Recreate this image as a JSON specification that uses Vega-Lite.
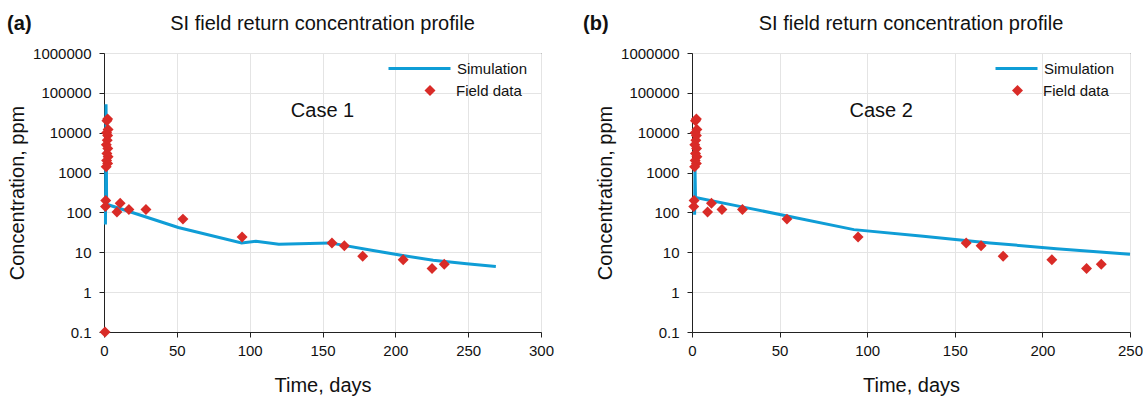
{
  "$schema": "https://vega.github.io/schema/vega-lite/v6.json",
  "background": "white",
  "padding": {"left": 7, "top": 13, "right": 2, "bottom": 2},
  "config": {
    "font": "Liberation Sans",
    "view": {"stroke": "#222", "strokeWidth": 1},
    "axis": {"domainColor": "#222", "tickColor": "#222", "labelColor": "#111", "titleColor": "#111", "labelFontSize": 15, "titleFontSize": 20, "titleFontWeight": "normal", "gridColor": "#e4e4e4", "tickSize": 5, "labelFont": "Liberation Sans", "titleFont": "Liberation Sans"},
    "title": {"fontSize": 20, "fontWeight": "normal", "color": "#111", "font": "Liberation Sans"},
    "legend": {"labelFontSize": 15, "labelColor": "#111", "labelFont": "Liberation Sans"}
  },
  "datasets": {
    "fieldA": [
      {"day": 0.7, "conc": 0.1, "series": "Field data"},
      {"day": 2.5, "conc": 22000, "series": "Field data"},
      {"day": 2.0, "conc": 20000, "series": "Field data"},
      {"day": 2.8, "conc": 12000, "series": "Field data"},
      {"day": 1.8, "conc": 10000, "series": "Field data"},
      {"day": 2.5, "conc": 8500, "series": "Field data"},
      {"day": 2.2, "conc": 6500, "series": "Field data"},
      {"day": 1.6, "conc": 5000, "series": "Field data"},
      {"day": 2.6, "conc": 4000, "series": "Field data"},
      {"day": 2.0, "conc": 3000, "series": "Field data"},
      {"day": 2.8, "conc": 2500, "series": "Field data"},
      {"day": 1.8, "conc": 2000, "series": "Field data"},
      {"day": 2.5, "conc": 1700, "series": "Field data"},
      {"day": 1.5, "conc": 1400, "series": "Field data"},
      {"day": 1.2, "conc": 200, "series": "Field data"},
      {"day": 1.0, "conc": 140, "series": "Field data"},
      {"day": 8.9, "conc": 103, "series": "Field data"},
      {"day": 11.1, "conc": 169, "series": "Field data"},
      {"day": 17.1, "conc": 118, "series": "Field data"},
      {"day": 28.8, "conc": 119, "series": "Field data"},
      {"day": 54.2, "conc": 68, "series": "Field data"},
      {"day": 94.8, "conc": 24.3, "series": "Field data"},
      {"day": 156.5, "conc": 17, "series": "Field data"},
      {"day": 165, "conc": 14.6, "series": "Field data"},
      {"day": 177.6, "conc": 8, "series": "Field data"},
      {"day": 205.4, "conc": 6.5, "series": "Field data"},
      {"day": 225.2, "conc": 3.9, "series": "Field data"},
      {"day": 233.6, "conc": 5, "series": "Field data"}
    ],
    "fieldB": [
      {"day": 2.5, "conc": 22000, "series": "Field data"},
      {"day": 2.0, "conc": 20000, "series": "Field data"},
      {"day": 2.8, "conc": 12000, "series": "Field data"},
      {"day": 1.8, "conc": 10000, "series": "Field data"},
      {"day": 2.5, "conc": 8500, "series": "Field data"},
      {"day": 2.2, "conc": 6500, "series": "Field data"},
      {"day": 1.6, "conc": 5000, "series": "Field data"},
      {"day": 2.6, "conc": 4000, "series": "Field data"},
      {"day": 2.0, "conc": 3000, "series": "Field data"},
      {"day": 2.8, "conc": 2500, "series": "Field data"},
      {"day": 1.8, "conc": 2000, "series": "Field data"},
      {"day": 2.5, "conc": 1700, "series": "Field data"},
      {"day": 1.5, "conc": 1400, "series": "Field data"},
      {"day": 1.2, "conc": 200, "series": "Field data"},
      {"day": 1.0, "conc": 140, "series": "Field data"},
      {"day": 8.9, "conc": 103, "series": "Field data"},
      {"day": 11.1, "conc": 169, "series": "Field data"},
      {"day": 17.1, "conc": 118, "series": "Field data"},
      {"day": 28.8, "conc": 119, "series": "Field data"},
      {"day": 54.2, "conc": 68, "series": "Field data"},
      {"day": 94.8, "conc": 24.3, "series": "Field data"},
      {"day": 156.5, "conc": 17, "series": "Field data"},
      {"day": 165, "conc": 14.6, "series": "Field data"},
      {"day": 177.6, "conc": 8, "series": "Field data"},
      {"day": 205.4, "conc": 6.5, "series": "Field data"},
      {"day": 225.2, "conc": 3.9, "series": "Field data"},
      {"day": 233.6, "conc": 5, "series": "Field data"}
    ],
    "simA": [
      {"day": 1.0, "conc": 50, "series": "Simulation"},
      {"day": 1.4, "conc": 52000, "series": "Simulation"},
      {"day": 1.8, "conc": 160, "series": "Simulation"},
      {"day": 17.8, "conc": 104, "series": "Simulation"},
      {"day": 51, "conc": 42, "series": "Simulation"},
      {"day": 94.5, "conc": 17.2, "series": "Simulation"},
      {"day": 104.3, "conc": 19, "series": "Simulation"},
      {"day": 120, "conc": 16, "series": "Simulation"},
      {"day": 155, "conc": 17.2, "series": "Simulation"},
      {"day": 183.7, "conc": 11.2, "series": "Simulation"},
      {"day": 204, "conc": 8.4, "series": "Simulation"},
      {"day": 226, "conc": 6.3, "series": "Simulation"},
      {"day": 249, "conc": 5.15, "series": "Simulation"},
      {"day": 269, "conc": 4.4, "series": "Simulation"}
    ],
    "simB": [
      {"day": 1.5, "conc": 88, "series": "Simulation"},
      {"day": 1.7, "conc": 1300, "series": "Simulation"},
      {"day": 2.0, "conc": 236, "series": "Simulation"},
      {"day": 27.9, "conc": 140, "series": "Simulation"},
      {"day": 56.4, "conc": 78, "series": "Simulation"},
      {"day": 92.4, "conc": 37, "series": "Simulation"},
      {"day": 132, "conc": 25.3, "series": "Simulation"},
      {"day": 170, "conc": 17.2, "series": "Simulation"},
      {"day": 208, "conc": 12.3, "series": "Simulation"},
      {"day": 250, "conc": 8.9, "series": "Simulation"}
    ],
    "noteA": [{"day": 150, "conc": 35000, "label": "Case 1"}],
    "noteB": [{"day": 108, "conc": 35000, "label": "Case 2"}]
  },
  "hconcat": [
    {
      "title": {"text": "(a)", "anchor": "start", "frame": "bounds", "fontWeight": "bold", "dx": 0, "dy": 20, "offset": 0},
      "vconcat": [
        {
          "width": 437,
          "height": 279,
          "title": {"text": "SI field return concentration profile", "anchor": "middle", "frame": "group", "offset": 12},
          "layer": [
            {
              "data": {"name": "simA"},
              "mark": {"type": "line", "strokeWidth": 3},
              "encoding": {
                "x": {"field": "day", "type": "quantitative", "scale": {"domain": [0, 300], "nice": false}, "axis": {"title": "Time, days", "values": [0, 50, 100, 150, 200, 250, 300], "grid": true, "labelFlush": false, "labelOverlap": false, "labelPadding": 6, "titlePadding": 17}},
                "y": {"field": "conc", "type": "quantitative", "scale": {"type": "log", "domain": [0.1, 1000000], "nice": false}, "axis": {"title": "Concentration, ppm", "values": [0.1, 1, 10, 100, 1000, 10000, 100000, 1000000], "format": "~f", "grid": true, "labelOverlap": false, "labelPadding": 8, "titlePadding": 5}},
                "color": {"field": "series", "type": "nominal", "scale": {"domain": ["Simulation"], "range": ["#0f9dd6"]}, "legend": {"title": null, "orient": "none", "legendX": 283, "legendY": -17, "symbolType": "stroke", "symbolSize": 3844, "symbolStrokeWidth": 3, "labelOffset": 5, "padding": 0}}
              }
            },
            {
              "data": {"name": "fieldA"},
              "mark": {"type": "point", "filled": true, "size": 120, "opacity": 1, "color": "#d92b27", "clip": false},
              "encoding": {
                "x": {"field": "day", "type": "quantitative"},
                "y": {"field": "conc", "type": "quantitative"},
                "shape": {"field": "series", "type": "nominal", "scale": {"domain": ["Field data"], "range": ["diamond"]}, "legend": {"title": null, "orient": "none", "legendX": 318.5, "legendY": 30, "symbolSize": 120, "symbolFillColor": "#d92b27", "symbolStrokeWidth": 0, "symbolOpacity": 1, "labelOffset": 18.5, "padding": 0}}
              }
            },
            {
              "data": {"name": "noteA"},
              "mark": {"type": "text", "fontSize": 20, "color": "#111", "baseline": "middle"},
              "encoding": {
                "x": {"field": "day", "type": "quantitative"},
                "y": {"field": "conc", "type": "quantitative"},
                "text": {"field": "label"}
              }
            }
          ]
        }
      ]
    },
    {
      "title": {"text": "(b)", "anchor": "start", "frame": "bounds", "fontWeight": "bold", "dx": -12, "dy": 20, "offset": 0},
      "vconcat": [
        {
          "width": 438,
          "height": 279,
          "title": {"text": "SI field return concentration profile", "anchor": "middle", "frame": "group", "offset": 12},
          "layer": [
            {
              "data": {"name": "simB"},
              "mark": {"type": "line", "strokeWidth": 3},
              "encoding": {
                "x": {"field": "day", "type": "quantitative", "scale": {"domain": [0, 250], "nice": false}, "axis": {"title": "Time, days", "values": [0, 50, 100, 150, 200, 250], "grid": true, "labelFlush": false, "labelOverlap": false, "labelPadding": 6, "titlePadding": 17}},
                "y": {"field": "conc", "type": "quantitative", "scale": {"type": "log", "domain": [0.1, 1000000], "nice": false}, "axis": {"title": "Concentration, ppm", "values": [0.1, 1, 10, 100, 1000, 10000, 100000, 1000000], "format": "~f", "grid": true, "labelOverlap": false, "labelPadding": 8, "titlePadding": 5}},
                "color": {"field": "series", "type": "nominal", "scale": {"domain": ["Simulation"], "range": ["#0f9dd6"]}, "legend": {"title": null, "orient": "none", "legendX": 302, "legendY": -7, "symbolType": "stroke", "symbolSize": 1764, "symbolStrokeWidth": 3, "labelOffset": 5, "padding": 0}}
              }
            },
            {
              "data": {"name": "fieldB"},
              "mark": {"type": "point", "filled": true, "size": 120, "opacity": 1, "color": "#d92b27", "clip": false},
              "encoding": {
                "x": {"field": "day", "type": "quantitative"},
                "y": {"field": "conc", "type": "quantitative"},
                "shape": {"field": "series", "type": "nominal", "scale": {"domain": ["Field data"], "range": ["diamond"]}, "legend": {"title": null, "orient": "none", "legendX": 318, "legendY": 30, "symbolSize": 120, "symbolFillColor": "#d92b27", "symbolStrokeWidth": 0, "symbolOpacity": 1, "labelOffset": 18, "padding": 0}}
              }
            },
            {
              "data": {"name": "noteB"},
              "mark": {"type": "text", "fontSize": 20, "color": "#111", "baseline": "middle"},
              "encoding": {
                "x": {"field": "day", "type": "quantitative"},
                "y": {"field": "conc", "type": "quantitative"},
                "text": {"field": "label"}
              }
            }
          ]
        }
      ]
    }
  ],
  "spacing": 28,
  "resolve": {"scale": {"color": "independent", "shape": "independent", "x": "independent", "y": "independent"}, "legend": {"color": "independent", "shape": "independent"}}
}
